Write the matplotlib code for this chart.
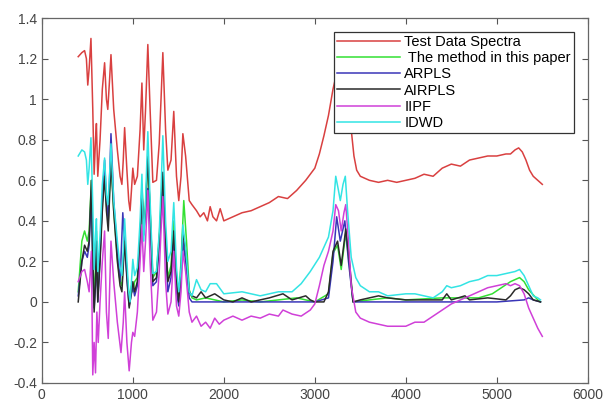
import numpy as np
import matplotlib
matplotlib.use("Agg")
import matplotlib.pyplot as plt
from matplotlib.ticker import FormatStrFormatter

plt.rcParams['font.family'] = ['Liberation Sans', 'DejaVu Sans']

# Test Data Spectra (red)
red_x = [400, 440, 470, 490, 505, 520, 540, 560, 575, 590, 600, 615, 640, 665, 690, 710, 725, 745, 760,
         790, 830, 860, 880, 895, 910, 935, 955, 970, 985, 1000, 1020, 1050, 1080, 1100, 1120, 1140, 1165,
         1190, 1220, 1260, 1290, 1310, 1330, 1360, 1385, 1420, 1450, 1480, 1505, 1530, 1550, 1580, 1620,
         1650, 1700, 1740, 1780, 1820, 1850, 1880, 1920, 1960, 2000, 2100, 2200, 2300, 2400, 2500, 2600,
         2700, 2800, 2900, 2950, 3000, 3050, 3100, 3150, 3200, 3250, 3300, 3350, 3400, 3430, 3460, 3500,
         3600, 3700, 3800, 3900, 4000, 4100, 4200, 4300, 4400, 4500, 4600, 4700, 4800, 4900, 5000, 5100,
         5150, 5200, 5240, 5280, 5320, 5360, 5400, 5450, 5500]
red_y = [1.21, 1.23, 1.24, 1.20, 1.07, 1.15, 1.30, 0.95, 0.63, 0.80, 0.88, 0.62, 0.80, 1.05, 1.18, 1.00,
         0.95, 1.10, 1.22, 0.95, 0.75, 0.62, 0.58, 0.70, 0.86, 0.65, 0.50, 0.45, 0.55, 0.66, 0.58, 0.62,
         0.85, 1.08, 0.75, 0.95, 1.27, 0.95, 0.59, 0.60, 0.78, 1.00, 1.23, 0.85, 0.65, 0.70, 0.94, 0.62,
         0.50, 0.62, 0.83, 0.72, 0.50, 0.48, 0.45, 0.42, 0.44, 0.40, 0.47, 0.42, 0.40, 0.46, 0.40, 0.42,
         0.44, 0.45, 0.47, 0.49, 0.52,
         0.51, 0.55, 0.60, 0.63, 0.66, 0.73, 0.82, 0.92, 1.05, 1.15, 1.10, 1.00, 0.85, 0.72, 0.65, 0.62,
         0.60, 0.59, 0.60, 0.59, 0.60, 0.61, 0.63, 0.62, 0.66, 0.68, 0.67, 0.70, 0.71, 0.72, 0.72, 0.73,
         0.73, 0.75, 0.76, 0.74, 0.70, 0.65, 0.62, 0.60, 0.58]

# The method in this paper (green)
grn_x = [400, 440, 470, 500, 520, 545, 560, 575, 590, 600, 615, 640, 665, 690, 710, 730, 760, 790, 830,
         860, 880, 910, 940, 960, 985, 1000, 1020, 1050, 1080, 1100, 1120, 1140, 1165, 1190, 1220, 1260,
         1290, 1310, 1330, 1360, 1385, 1420, 1450, 1480, 1505, 1530, 1560, 1590, 1620, 1650, 1700, 1800,
         1900, 2000, 2200, 2400, 2600, 2800, 3000, 3150, 3200, 3250, 3290, 3340, 3380, 3420, 3600, 3800,
         4000, 4400, 4800, 4950, 5050, 5150, 5250, 5300, 5350, 5450, 5480]
grn_y = [0.05, 0.30, 0.35, 0.30, 0.35, 0.60, 0.25, 0.02, 0.15, 0.35, 0.05, 0.25, 0.50, 0.65, 0.48, 0.40,
         0.72, 0.45, 0.22, 0.10, 0.08, 0.32, 0.12, 0.02, 0.08, 0.05, 0.10, 0.12, 0.32, 0.58, 0.38, 0.48,
         0.70, 0.45, 0.12, 0.15, 0.32, 0.48, 0.62, 0.32, 0.12, 0.18, 0.40, 0.12, 0.03, 0.20, 0.50, 0.30,
         0.06, 0.02, 0.01, 0.02, 0.01, 0.00, 0.01, 0.00, 0.01, 0.02, 0.00, 0.04, 0.24, 0.28, 0.16, 0.34,
         0.18, 0.00, 0.01, 0.02, 0.01, 0.02, 0.02, 0.04, 0.07, 0.10, 0.12, 0.10, 0.06, 0.01, 0.00]

# ARPLS (blue)
blu_x = [400, 440, 470, 500, 520, 545, 560, 575, 590, 600, 615, 640, 665, 690, 710, 730, 760, 790, 830,
         860, 890, 910, 940, 960, 985, 1000, 1020, 1050, 1080, 1100, 1120, 1140, 1165, 1190, 1220, 1260,
         1290, 1310, 1330, 1360, 1385, 1420, 1450, 1480, 1505, 1530, 1550, 1580, 1620, 1650, 1700, 2000,
         2500, 3000, 3150, 3200, 3240, 3280, 3330, 3370, 3420, 3600, 4000, 4500, 5000, 5300, 5350, 5400,
         5480]
blu_y = [0.03, 0.20, 0.25, 0.22, 0.28, 0.55, 0.15, -0.03, 0.08, 0.30, 0.00, 0.22, 0.50, 0.70, 0.50, 0.40,
         0.83, 0.50, 0.25, 0.10, 0.44, 0.28, 0.08, -0.02, 0.04, 0.08, 0.03, 0.08, 0.30, 0.55, 0.33, 0.45,
         0.56, 0.40, 0.08, 0.10, 0.28, 0.42, 0.55, 0.28, 0.05, 0.12, 0.30, 0.05, -0.02, 0.12, 0.30, 0.20,
         0.02, 0.00, 0.00, 0.00, 0.00, 0.00, 0.02, 0.20, 0.42, 0.30, 0.40, 0.20, 0.00, 0.00, 0.00, 0.00,
         0.00, 0.01, 0.02, 0.01, 0.00]

# AIRPLS (black)
blk_x = [400, 440, 470, 500, 520, 545, 560, 575, 590, 600, 615, 640, 665, 690, 710, 730, 760, 790, 830,
         860, 880, 910, 940, 960, 985, 1000, 1020, 1050, 1080, 1100, 1120, 1140, 1165, 1190, 1220, 1260,
         1290, 1310, 1330, 1360, 1385, 1420, 1450, 1480, 1505, 1530, 1550, 1580, 1620, 1650, 1700, 1750,
         1800, 1900, 2000, 2100, 2200, 2300, 2500, 2650, 2750, 2900, 2950, 3000, 3100, 3150, 3200, 3250,
         3290, 3340, 3380, 3420, 3500, 3600, 3700, 3800, 4000, 4400, 4450, 4500, 4650, 4700, 4900, 5100,
         5150, 5200, 5250, 5300, 5350, 5400, 5480]
blk_y = [0.00, 0.20, 0.28, 0.25, 0.30, 0.60, 0.20, -0.05, 0.10, 0.30, 0.00, 0.20, 0.45, 0.62, 0.45, 0.35,
         0.70, 0.45, 0.20, 0.08, 0.05, 0.30, 0.10, -0.03, 0.05, 0.10, 0.05, 0.10, 0.30, 0.55, 0.35, 0.45,
         0.72, 0.45, 0.10, 0.12, 0.30, 0.45, 0.64, 0.30, 0.10, 0.15, 0.35, 0.10, 0.00, 0.15, 0.35, 0.25,
         0.05, 0.03, 0.02, 0.05, 0.02, 0.04, 0.01, 0.00, 0.02, 0.00, 0.02, 0.04, 0.01, 0.03, 0.01, 0.00,
         0.00, 0.05, 0.25, 0.30, 0.18, 0.36, 0.20, 0.00, 0.01, 0.02, 0.03, 0.02, 0.01, 0.01, 0.04, 0.01,
         0.03, 0.01, 0.02, 0.01, 0.03, 0.06, 0.07, 0.06, 0.04, 0.01, 0.00]

# IIPF (magenta)
mag_x = [400, 440, 470, 500, 520, 545, 560, 575, 590, 605, 620, 640, 665, 690, 710, 730, 760, 790, 830,
         870, 895, 910, 935, 960, 985, 1000, 1020, 1050, 1080, 1100, 1120, 1140, 1165, 1190, 1220, 1260,
         1290, 1310, 1330, 1360, 1385, 1420, 1450, 1480, 1505, 1530, 1550, 1580, 1620, 1650, 1700, 1750,
         1800, 1850, 1900, 1950, 2000, 2100, 2200, 2300, 2400, 2500, 2600, 2650, 2750, 2850, 2950, 3000,
         3050, 3100, 3150, 3200, 3230, 3260, 3290, 3320, 3340, 3370, 3400, 3450, 3500, 3600, 3700, 3800,
         3900, 4000, 4100, 4200, 4300, 4400, 4500, 4600, 4700, 4800, 4900, 5000, 5100, 5150, 5200, 5250,
         5300, 5350, 5400, 5450, 5500]
mag_y = [0.10, 0.15, 0.16, 0.10, 0.05, 0.25, -0.36, -0.20, -0.35, -0.05, -0.20, 0.00, 0.20, 0.35, -0.05,
         -0.18, 0.30, 0.10, -0.10, -0.25, -0.10, 0.05, -0.20, -0.34, -0.20, -0.15, -0.17, -0.05, 0.20, 0.38,
         0.15, 0.30, 0.55, 0.20, -0.09, -0.05, 0.15, 0.35, 0.52, 0.10, -0.06, 0.00, 0.25, -0.02, -0.07,
         0.05, 0.25, 0.15, -0.05, -0.10, -0.07, -0.12, -0.10, -0.13, -0.08, -0.11, -0.09, -0.07, -0.09,
         -0.07, -0.08, -0.06, -0.07, -0.04, -0.06, -0.07, -0.04, -0.01, 0.08, 0.18, 0.25, 0.35, 0.48, 0.45,
         0.35, 0.44, 0.48, 0.30, 0.08, -0.05, -0.08, -0.10, -0.11, -0.12, -0.12, -0.12, -0.10, -0.10,
         -0.07, -0.04, -0.01, 0.01, 0.03, 0.05, 0.07, 0.08, 0.09, 0.08, 0.09, 0.08, 0.04, -0.03, -0.08,
         -0.13, -0.17]

# IDWD (cyan)
cyn_x = [400, 440, 470, 490, 505, 520, 540, 560, 575, 590, 600, 615, 640, 665, 690, 710, 725, 745, 760,
         790, 830, 860, 880, 895, 910, 935, 955, 970, 985, 1000, 1020, 1050, 1080, 1100, 1120, 1140, 1165,
         1190, 1220, 1260, 1290, 1310, 1330, 1360, 1385, 1420, 1450, 1480, 1505, 1530, 1550, 1580, 1620,
         1650, 1700, 1750, 1800, 1850, 1920, 2000, 2200, 2400, 2600, 2750, 2850, 2950, 3050, 3150, 3200,
         3230, 3260, 3280, 3310, 3335, 3360, 3400, 3450, 3500, 3600, 3700, 3800, 4000, 4100, 4300, 4400,
         4450, 4500, 4600, 4700, 4800, 4900, 5000, 5100, 5200, 5250, 5300, 5350, 5400, 5450, 5480]
cyn_y = [0.72, 0.75, 0.74, 0.70, 0.58, 0.66, 0.81, 0.48, 0.16, 0.33, 0.41, 0.15, 0.33, 0.58, 0.71, 0.53,
         0.48, 0.63, 0.78, 0.50, 0.30, 0.17, 0.13, 0.25, 0.41, 0.20, 0.05, 0.00, 0.10, 0.21, 0.13, 0.17,
         0.40, 0.63, 0.30, 0.50, 0.84, 0.50, 0.14, 0.15, 0.34, 0.56, 0.82, 0.40, 0.20, 0.25, 0.49, 0.17,
         0.05, 0.17, 0.38, 0.27, 0.05, 0.03, 0.11, 0.06, 0.05, 0.09, 0.09, 0.04, 0.05, 0.03, 0.05, 0.05,
         0.09, 0.15, 0.22, 0.32, 0.45, 0.62, 0.55, 0.50, 0.58, 0.62, 0.45, 0.22, 0.12, 0.08, 0.05, 0.05,
         0.03, 0.04, 0.04, 0.02, 0.05, 0.08, 0.07, 0.08, 0.10, 0.11, 0.13, 0.13, 0.14, 0.15, 0.16, 0.13,
         0.08, 0.03, 0.02, 0.01]

labels = ['Test Data Spectra', ' The method in this paper', 'ARPLS', 'AIRPLS', 'IIPF', 'IDWD']
colors = ['#d94040', '#33e033', '#3a36b8', '#2a2a2a', '#d040d8', '#33e4e4']

fig = plt.figure(figsize=(6.06, 4.04), dpi=100)
ax = fig.add_axes([0.069, 0.052, 0.901, 0.903])

series = [(red_x, red_y), (grn_x, grn_y), (blu_x, blu_y), (blk_x, blk_y), (mag_x, mag_y), (cyn_x, cyn_y)]
for (xs, ys), lab, c in zip(series, labels, colors):
    ax.plot(xs, ys, color=c, lw=1.1, label=lab)

ax.set_xlim(0, 6000)
ax.set_ylim(-0.4, 1.4)
ax.set_xticks(np.arange(0, 6001, 1000))
ax.set_yticks(np.arange(-0.4, 1.41, 0.2))
ax.yaxis.set_major_formatter(FormatStrFormatter('%g'))
ax.tick_params(direction='in', top=True, right=True, length=4, width=0.8,
               colors='#555555', labelsize=10, labelcolor='#444444')
for s in ax.spines.values():
    s.set_color('#666666')
    s.set_linewidth(0.9)

leg = ax.legend(loc='upper right', bbox_to_anchor=(0.974, 0.962), borderaxespad=0,
                fontsize=10.5, handlelength=4.3, labelspacing=0.15, borderpad=0.2,
                handletextpad=0.3, fancybox=False, framealpha=1, edgecolor='#333333')
leg.get_frame().set_linewidth(0.9)

fig.savefig('out.png', dpi=100)
